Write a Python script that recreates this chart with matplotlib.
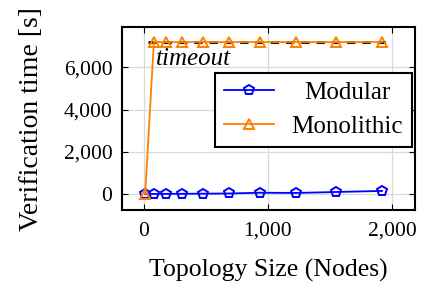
import matplotlib
matplotlib.use("Agg")
import matplotlib.pyplot as plt
from matplotlib.ticker import FuncFormatter

nodes = [10, 80, 180, 310, 480, 690, 940, 1230, 1550, 1920]
modular = [2, 4, 6, 10, 15, 25, 60, 50, 95, 145]
monolithic = [10, 7200, 7200, 7200, 7200, 7200, 7200, 7200, 7200, 7200]
timeout = 7200
timeout_x = [30, 2000]

plt.rcParams['font.family'] = ['Liberation Serif', 'DejaVu Serif']

fig = plt.figure(figsize=(4.29, 2.84), dpi=100)
ax = fig.add_axes([0.2844, 0.2606, 0.6826, 0.6434])

ax.plot(timeout_x, [timeout, timeout], color='black', ls=(0, (3, 2.5)), lw=2.0, zorder=2)
ax.plot(nodes, modular, color=(0, 0, 1), marker='p', mfc='none', mec=(0, 0, 1),
        ms=7.5, mew=1.4, lw=1.3, label='Modular', zorder=3)
ax.plot(nodes, monolithic, color=(1, 0.5, 0), marker='^', mfc='none', mec=(1, 0.5, 0),
        ms=7.5, mew=1.4, lw=1.3, label='Monolithic', zorder=3)
ax.text(100, 6900, 'timeout', style='italic', fontsize=18, va='top', ha='left')

ax.set_xlim(-177, 2185)
ax.set_ylim(-758, 7900)
ax.set_xticks([0, 1000, 2000])
ax.set_yticks([0, 2000, 4000, 6000])
fmt = FuncFormatter(lambda v, p: f"{int(v):,}")
ax.xaxis.set_major_formatter(fmt)
ax.yaxis.set_major_formatter(fmt)
ax.grid(True, color='#d9d9d9', lw=0.9)
ax.set_axisbelow(True)
ax.tick_params(direction='in', length=4, width=0.8, labelsize=15.5, top=True, right=True)
ax.tick_params(axis='x', pad=8.5)
ax.tick_params(axis='y', pad=7)
for s in ax.spines.values():
    s.set_linewidth(1.5)

ax.set_xlabel('Topology Size (Nodes)', fontsize=18.5, labelpad=13)
ax.set_ylabel('Verification time [s]', fontsize=20, labelpad=14)

leg = ax.legend(loc='upper right', bbox_to_anchor=(0.99, 0.75), fontsize=18,
                frameon=True, fancybox=False, edgecolor='black', framealpha=1,
                borderpad=0.35, handlelength=2.0, labelspacing=0.45, handletextpad=0.7,
                borderaxespad=0)
leg.get_frame().set_linewidth(1.5)

# center legend labels like pgfplots
fig.canvas.draw()
r = fig.canvas.get_renderer()
texts = leg.get_texts()
widths = [t.get_window_extent(r).width for t in texts]
W = max(widths)
for t, w in zip(texts, widths):
    t.set_position(((W - w) / 2, 0))

fig.savefig('out.png', dpi=100)
